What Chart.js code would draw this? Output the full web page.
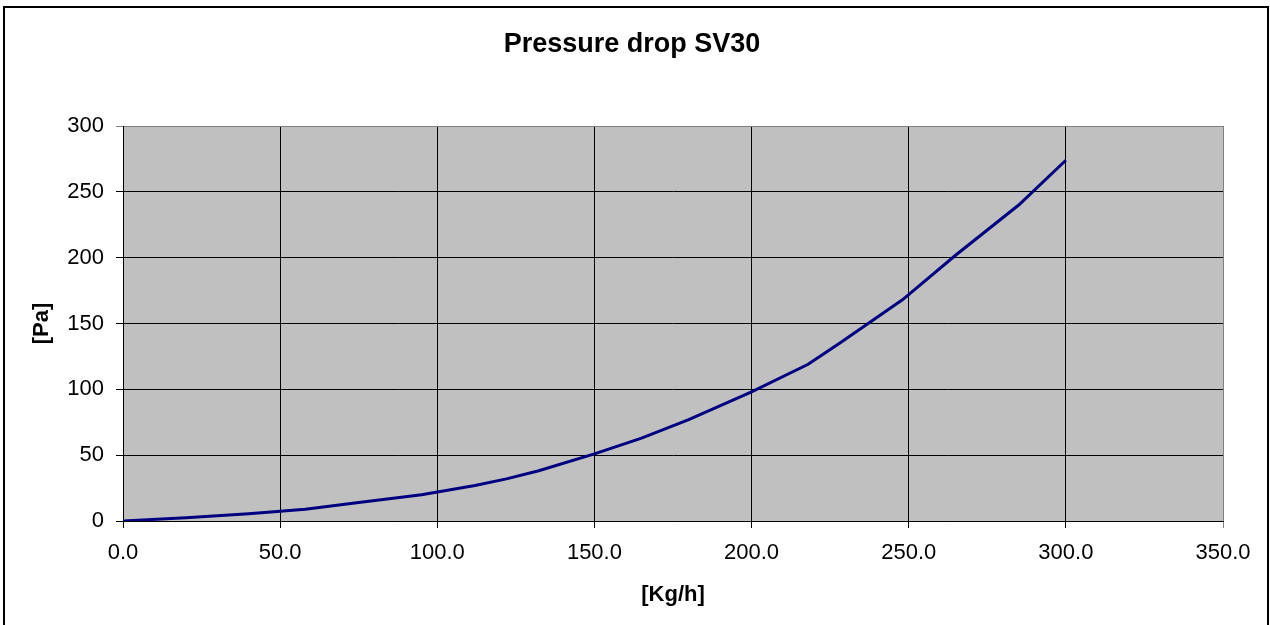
<!DOCTYPE html>
<html>
<head>
<meta charset="utf-8">
<script src="https://cdn.jsdelivr.net/npm/chart.js@4"></script>
<style>
  html, body { margin: 0; padding: 0; background: #ffffff; }
  #wrap { width: 1270px; height: 625px; position: relative; }
</style>
</head>
<body>
<div id="wrap"><canvas id="c"></canvas></div>
<script>
const chartTitle = 'Pressure drop SV30';
const xAxisTitle = '[Kg/h]';
const yAxisTitle = '[Pa]';
const flowKgH    = [0, 20, 40, 58, 75, 95, 112, 122, 132, 150, 165, 180, 200, 218, 228, 248, 265, 285, 300];
const pressurePa = [0, 2.5, 5.5, 9, 14, 20, 27, 32, 38, 51, 63, 77, 98, 119, 135, 168, 202, 240, 274];
const xTicksMax = 350, xStep = 50;
const yTicksMax = 300, yStep = 50;

const FONT = "'Liberation Sans', Arial, sans-serif";

const framePlugin = {
  id: 'frame',
  beforeDraw(chart) {
    const {ctx, chartArea: a} = chart;
    ctx.save();
    ctx.fillStyle = '#ffffff';
    ctx.fillRect(0, 0, chart.width, chart.height);
    ctx.strokeStyle = '#000000';
    ctx.lineWidth = 2;
    ctx.strokeRect(4, 7, 1264, 640);
    ctx.fillStyle = '#c0c0c0';
    ctx.fillRect(a.left, a.top, a.right - a.left, a.bottom - a.top);
    ctx.restore();
  }
};

const points = flowKgH.map((x, i) => ({x: x, y: pressurePa[i]}));

new Chart(document.getElementById('c'), {
  type: 'scatter',
  data: {
    datasets: [{
      data: points,
      showLine: true,
      borderColor: '#000080',
      backgroundColor: '#000080',
      borderWidth: 3,
      pointRadius: 0,
      tension: 0
    }]
  },
  options: {
    responsive: true,
    maintainAspectRatio: false,
    devicePixelRatio: 1,
    animation: false,
    layout: { padding: { left: 0, right: 6, top: 0, bottom: 0 } },
    plugins: {
      legend: { display: false },
      tooltip: { enabled: false },
      title: {
        display: true,
        text: chartTitle,
        color: '#000000',
        font: { family: FONT, size: 27, weight: 'bold', lineHeight: 1.2 },
        padding: { top: 28, bottom: 65.6 }
      }
    },
    scales: {
      x: {
        type: 'linear',
        min: 0, max: xTicksMax,
        afterFit(s) { s.height = 104; },
        ticks: {
          stepSize: xStep,
          color: '#000000',
          padding: 12,
          maxRotation: 0,
          font: { family: FONT, size: 22 },
          callback: v => Number(v).toFixed(1)
        },
        grid: {
          color: c => (c.tick && c.tick.value === xTicksMax) ? '#808080' : '#000000',
          lineWidth: 1,
          tickLength: 7,
          drawTicks: true
        },
        border: { display: true, color: '#000000', width: 1 },
        title: {
          display: true,
          text: xAxisTitle,
          color: '#000000',
          font: { family: FONT, size: 22, weight: 'bold', lineHeight: 1.2 },
          padding: { top: 0, bottom: 16.8 }
        }
      },
      y: {
        type: 'linear',
        min: 0, max: yTicksMax,
        afterFit(s) { s.width = 123; },
        ticks: {
          stepSize: yStep,
          color: '#000000',
          padding: 12,
          font: { family: FONT, size: 22 }
        },
        grid: {
          color: c => (c.tick && c.tick.value === yTicksMax) ? '#808080' : '#000000',
          lineWidth: 1,
          tickLength: 7,
          drawTicks: true
        },
        border: { display: true, color: '#000000', width: 1 },
        title: {
          display: true,
          text: yAxisTitle,
          color: '#000000',
          font: { family: FONT, size: 22, weight: 'bold', lineHeight: 1.2 },
          padding: { top: 28.8, bottom: 0 }
        }
      },
      yRight: {
        type: 'linear',
        position: 'right',
        min: 0, max: yTicksMax,
        display: true,
        afterFit(s) { s.width = 41; },
        ticks: { display: false },
        grid: { display: false, drawTicks: false },
        border: { display: false },
        title: { display: false }
      }
    }
  },
  plugins: [framePlugin]
});
</script>
</body>
</html>
